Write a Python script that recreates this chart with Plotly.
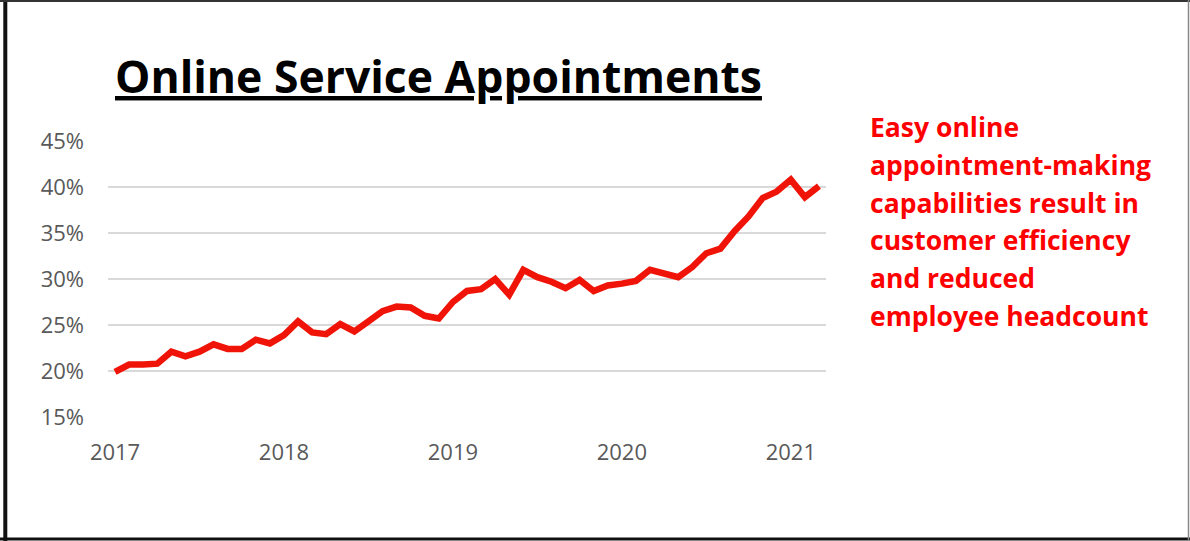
import plotly.graph_objects as go

# Monthly share of service appointments booked online, Jan 2017 - Mar 2021
months = [f"{y}-{m:02d}" for y in range(2017, 2022) for m in range(1, 13)][:51]
online_share = [
    0.199, 0.207, 0.207, 0.208, 0.221, 0.216, 0.221, 0.229, 0.224, 0.224, 0.234, 0.230,
    0.239, 0.254, 0.242, 0.240, 0.251, 0.243, 0.254, 0.265, 0.270, 0.269, 0.260, 0.257,
    0.275, 0.287, 0.289, 0.300, 0.283, 0.310, 0.302, 0.297, 0.290, 0.299, 0.287, 0.293,
    0.295, 0.298, 0.310, 0.306, 0.302, 0.313, 0.328, 0.333, 0.352, 0.368, 0.388, 0.395,
    0.408, 0.389, 0.401,
]
year_ticks = ["2017-01", "2018-01", "2019-01", "2020-01", "2021-01"]
year_labels = ["2017", "2018", "2019", "2020", "2021"]
y_ticks = [0.15, 0.20, 0.25, 0.30, 0.35, 0.40, 0.45]

title_text = "Online Service Appointments"
note_lines = [
    "Easy online",
    "appointment-making",
    "capabilities result in",
    "customer efficiency",
    "and reduced",
    "employee headcount",
]

W, H = 1190, 541
L, R, T, B = 108, 364, 141, 124
PW, PH = W - L - R, H - T - B


def px(x):
    return (x - L) / PW


def py(y):
    return (H - B - y) / PH


fig = go.Figure()
fig.add_trace(go.Scatter(
    x=months, y=online_share, mode="lines",
    line=dict(color="#f01408", width=6.5),
    hoverinfo="skip",
))

axis_font = dict(family="Open Sans", size=22, color="#595959")

fig.update_xaxes(
    type="category", range=[-0.5, len(months) - 0.5],
    tickmode="array", tickvals=year_ticks, ticktext=year_labels,
    showgrid=False, showline=False, zeroline=False, ticks="",
    tickfont=axis_font, ticklabelstandoff=20,
)
fig.update_yaxes(
    range=[0.15, 0.45], tickvals=y_ticks, tickformat=".0%",
    showgrid=True, gridcolor="#d9d9d9", gridwidth=1.6,
    zeroline=False, showline=False, ticks="",
    tickfont=axis_font, ticklabelstandoff=23,
)

annotations = [
    dict(
        text=f"<b><u>{title_text}</u></b>", x=px(113), y=py(75),
        xref="paper", yref="paper", xanchor="left", yanchor="middle",
        showarrow=False, font=dict(family="Open Sans", size=44.5, color="#000000"),
    ),
]

# Side note, one annotation per line so the line pitch can be set freely
note_top, note_pitch = 127, 37.8
for i, line in enumerate(note_lines):
    annotations.append(dict(
        text=f"<b>{line}</b>", x=px(868), y=py(note_top + i * note_pitch),
        xref="paper", yref="paper", xanchor="left", yanchor="middle", align="left",
        showarrow=False, font=dict(family="Open Sans", size=26.5, color="#ff0000"),
    ))

shapes = [
    dict(type="line", xref="paper", yref="paper", x0=px(5.3), x1=px(5.3), y0=py(0), y1=py(541),
         line=dict(color="#111111", width=4)),
    dict(type="line", xref="paper", yref="paper", x0=px(0), x1=px(1190), y0=py(539), y1=py(539),
         line=dict(color="#111111", width=3)),
    dict(type="line", xref="paper", yref="paper", x0=px(0), x1=px(1190), y0=py(1), y1=py(1),
         line=dict(color="#333333", width=2)),
    dict(type="line", xref="paper", yref="paper", x0=px(1188.5), x1=px(1188.5), y0=py(0), y1=py(541),
         line=dict(color="#888888", width=1.5)),
]

fig.update_layout(
    width=W, height=H,
    margin=dict(l=L, r=R, t=T, b=B),
    paper_bgcolor="white", plot_bgcolor="white",
    showlegend=False,
    annotations=annotations, shapes=shapes,
)

fig.write_html("out.html")
